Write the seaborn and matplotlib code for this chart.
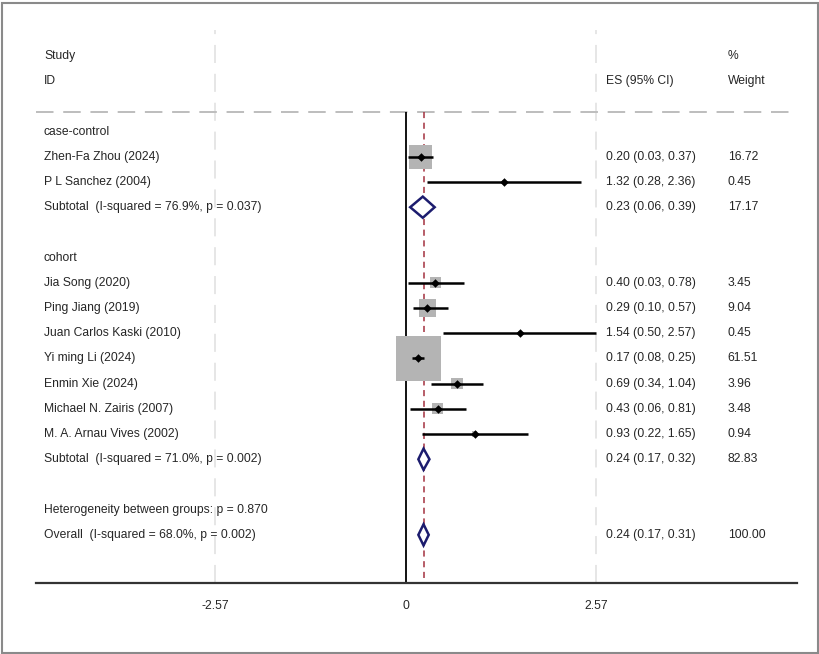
import matplotlib
matplotlib.use("Agg")
import matplotlib.pyplot as plt
import matplotlib.transforms as mtransforms
from matplotlib.patches import Rectangle
import seaborn as sns
import pandas as pd

sns.set_style("white")
plt.rcParams['font.family'] = ['Liberation Sans', 'DejaVu Sans']

# study rows
study_names = ["Zhen-Fa Zhou (2024)", "P L Sanchez (2004)",
               "Jia Song (2020)", "Ping Jiang (2019)", "Juan Carlos Kaski (2010)",
               "Yi ming Li (2024)", "Enmin Xie (2024)", "Michael N. Zairis (2007)",
               "M. A. Arnau Vives (2002)"]
study_rows = [4, 5, 9, 10, 11, 12, 13, 14, 15]
study_es = [0.20, 1.32, 0.40, 0.29, 1.54, 0.17, 0.69, 0.43, 0.93]
study_lo = [0.03, 0.28, 0.03, 0.10, 0.50, 0.08, 0.34, 0.06, 0.22]
study_hi = [0.37, 2.36, 0.78, 0.57, 2.57, 0.25, 1.04, 0.81, 1.65]
study_w = [16.72, 0.45, 3.45, 9.04, 0.45, 61.51, 3.96, 3.48, 0.94]

# pooled rows
pool_names = ["Subtotal  (I-squared = 76.9%, p = 0.037)",
              "Subtotal  (I-squared = 71.0%, p = 0.002)",
              "Overall  (I-squared = 68.0%, p = 0.002)"]
pool_rows = [6, 16, 19]
pool_es = [0.23, 0.24, 0.24]
pool_lo = [0.06, 0.17, 0.17]
pool_hi = [0.39, 0.32, 0.31]
pool_w = [17.17, 82.83, 100.00]

group_labels = ["case-control", "cohort"]
group_rows = [3, 8]
het_text = "Heterogeneity between groups: p = 0.870"
het_row = 18

overall_es = 0.24
tick_vals = [-2.57, 0, 2.57]
tick_labels = ["-2.57", "0", "2.57"]

df = pd.DataFrame({"name": study_names, "row": study_rows, "es": study_es,
                   "lo": study_lo, "hi": study_hi, "w": study_w})

fig = plt.figure(figsize=(8.2, 6.54), dpi=100)
ax = fig.add_axes([36 / 820, 1 - 583 / 654, 761 / 820, 553 / 654])
ax.set_xlim(-4.99, 5.28)
ax.set_ylim(20.91, -1.03)
sep = 2.22
fs = 8.7

# background grid / reference lines
for t in [tick_vals[0], tick_vals[2]]:
    ax.axvline(t, color="#e4e4e4", lw=1.3, ls=(0, (10, 6)), zorder=0)
ax.axhline(sep, color="#bdbdbd", lw=1.4, ls=(0, (9, 5)), zorder=1)
ax.vlines(0, sep, 20.91, color="black", lw=1.3, zorder=2)
ax.vlines(overall_es, sep, 20.91, color="#a3303f", lw=1.1, ls=(0, (4, 3)), zorder=2)

# weight boxes
sns.scatterplot(data=df, x="es", y="row", size="w", sizes=(0, 1707), size_norm=(0, 100),
                marker="s", color="#b4b4b4", linewidth=0, legend=False, ax=ax, zorder=3)
# CIs
ax.hlines(df["row"], df["lo"], df["hi"], color="black", lw=1.8, zorder=4)
sns.scatterplot(data=df, x="es", y="row", marker="D", color="black", s=19,
                linewidth=0, legend=False, ax=ax, zorder=5)

# pooled diamonds
h = 0.42
for r, e, lo, hi in zip(pool_rows, pool_es, pool_lo, pool_hi):
    ax.fill([lo, e, hi, e, lo], [r, r - h, r, r + h, r], facecolor="white",
            edgecolor="#1c1c6e", lw=1.8, zorder=5)

# text columns
tr = mtransforms.blended_transform_factory(ax.transAxes, ax.transData)
xl, xes, xw = 0.0105, 0.749, 0.909
ax.text(xl, 0, "Study", transform=tr, va="center", fontsize=fs)
ax.text(xl, 1, "ID", transform=tr, va="center", fontsize=fs)
ax.text(xes, 1, "ES (95% CI)", transform=tr, va="center", fontsize=fs)
ax.text(xw, 0, "%", transform=tr, va="center", fontsize=fs)
ax.text(xw, 1, "Weight", transform=tr, va="center", fontsize=fs)
for g, r in zip(group_labels, group_rows):
    ax.text(xl, r, g, transform=tr, va="center", fontsize=fs)
ax.text(xl, het_row, het_text, transform=tr, va="center", fontsize=fs)
for n, r, e, lo, hi, w in zip(study_names + pool_names, study_rows + pool_rows,
                              study_es + pool_es, study_lo + pool_lo,
                              study_hi + pool_hi, study_w + pool_w):
    ax.text(xl, r, n, transform=tr, va="center", fontsize=fs)
    ax.text(xes, r, f"{e:.2f} ({lo:.2f}, {hi:.2f})", transform=tr, va="center", fontsize=fs)
    ax.text(xw, r, f"{w:.2f}", transform=tr, va="center", fontsize=fs)

# axis
for s in ["top", "left", "right"]:
    ax.spines[s].set_visible(False)
ax.spines["bottom"].set_color("#333333")
ax.spines["bottom"].set_linewidth(1.6)
ax.set_yticks([])
ax.set_xticks(tick_vals)
ax.set_xticklabels(tick_labels, fontsize=fs)
ax.tick_params(axis="x", direction="out", length=6, width=1.2, color="#333333", pad=6)
ax.set_xlabel("")
ax.set_ylabel("")

# figure frame
fig.patches.append(Rectangle((0.002, 0.002), 0.995, 0.993, transform=fig.transFigure,
                             fill=False, edgecolor="#8a8a8a", lw=1.5))

fig.savefig("out.png", dpi=100)
